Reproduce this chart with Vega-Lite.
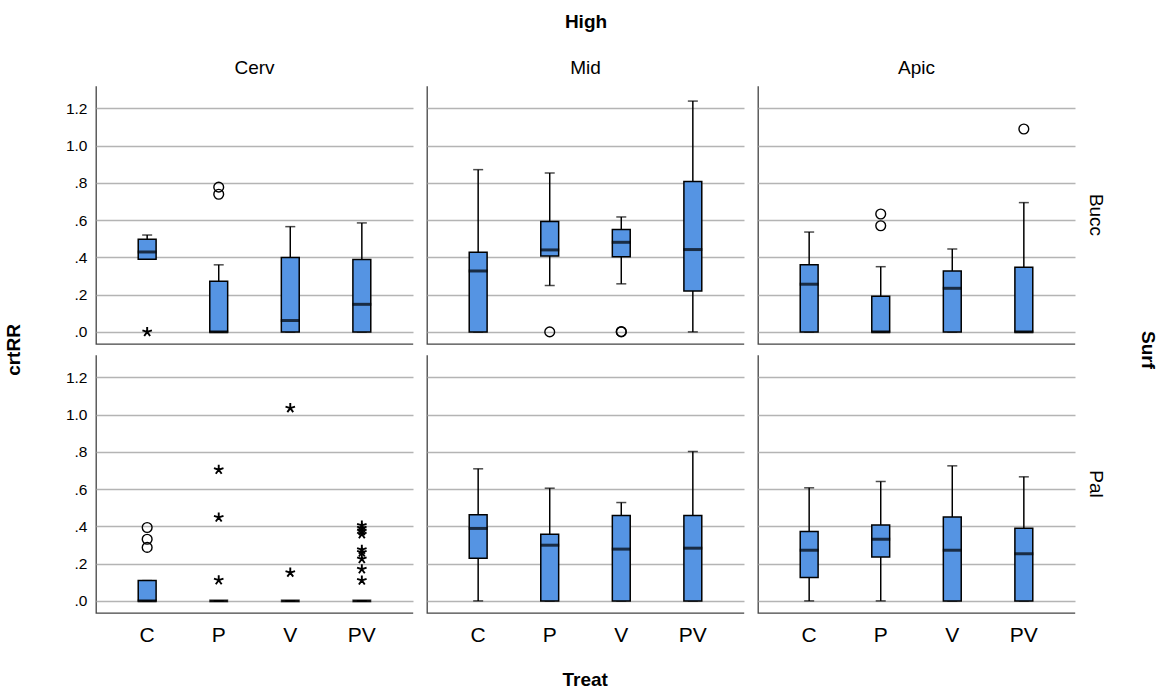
{
  "$schema": "https://vega.github.io/schema/vega-lite/v6.json",
  "padding": {"left": 5, "top": 13, "right": 5, "bottom": 5},
  "background": "white",
  "data": {"values": [
    {"surf":"Bucc","loc":"Cerv","treat":"C","kind":"box","lo":0.39,"q1":0.39,"med":0.429,"q3":0.497,"hi":0.52},
    {"surf":"Bucc","loc":"Cerv","treat":"P","kind":"box","lo":0,"q1":0,"med":0,"q3":0.272,"hi":0.36},
    {"surf":"Bucc","loc":"Cerv","treat":"V","kind":"box","lo":0,"q1":0,"med":0.061,"q3":0.399,"hi":0.565},
    {"surf":"Bucc","loc":"Cerv","treat":"PV","kind":"box","lo":0,"q1":0,"med":0.148,"q3":0.388,"hi":0.585},
    {"surf":"Bucc","loc":"Mid","treat":"C","kind":"box","lo":0,"q1":0,"med":0.327,"q3":0.427,"hi":0.871},
    {"surf":"Bucc","loc":"Mid","treat":"P","kind":"box","lo":0.249,"q1":0.408,"med":0.44,"q3":0.592,"hi":0.853},
    {"surf":"Bucc","loc":"Mid","treat":"V","kind":"box","lo":0.258,"q1":0.404,"med":0.481,"q3":0.549,"hi":0.617},
    {"surf":"Bucc","loc":"Mid","treat":"PV","kind":"box","lo":0,"q1":0.22,"med":0.442,"q3":0.807,"hi":1.239},
    {"surf":"Bucc","loc":"Apic","treat":"C","kind":"box","lo":0,"q1":0,"med":0.256,"q3":0.361,"hi":0.536},
    {"surf":"Bucc","loc":"Apic","treat":"P","kind":"box","lo":0,"q1":0,"med":0,"q3":0.191,"hi":0.35},
    {"surf":"Bucc","loc":"Apic","treat":"V","kind":"box","lo":0,"q1":0,"med":0.234,"q3":0.327,"hi":0.445},
    {"surf":"Bucc","loc":"Apic","treat":"PV","kind":"box","lo":0,"q1":0,"med":0,"q3":0.347,"hi":0.694},
    {"surf":"Pal","loc":"Cerv","treat":"C","kind":"box","lo":0,"q1":0,"med":0,"q3":0.109,"hi":0.109},
    {"surf":"Pal","loc":"Cerv","treat":"P","kind":"box","lo":0,"q1":0,"med":0,"q3":0,"hi":0},
    {"surf":"Pal","loc":"Cerv","treat":"V","kind":"box","lo":0,"q1":0,"med":0,"q3":0,"hi":0},
    {"surf":"Pal","loc":"Cerv","treat":"PV","kind":"box","lo":0,"q1":0,"med":0,"q3":0,"hi":0},
    {"surf":"Pal","loc":"Mid","treat":"C","kind":"box","lo":0,"q1":0.229,"med":0.389,"q3":0.462,"hi":0.709},
    {"surf":"Pal","loc":"Mid","treat":"P","kind":"box","lo":0,"q1":0,"med":0.299,"q3":0.358,"hi":0.605},
    {"surf":"Pal","loc":"Mid","treat":"V","kind":"box","lo":0,"q1":0,"med":0.278,"q3":0.459,"hi":0.528},
    {"surf":"Pal","loc":"Mid","treat":"PV","kind":"box","lo":0,"q1":0,"med":0.283,"q3":0.459,"hi":0.802},
    {"surf":"Pal","loc":"Apic","treat":"C","kind":"box","lo":0,"q1":0.125,"med":0.272,"q3":0.373,"hi":0.607},
    {"surf":"Pal","loc":"Apic","treat":"P","kind":"box","lo":0,"q1":0.235,"med":0.331,"q3":0.408,"hi":0.641},
    {"surf":"Pal","loc":"Apic","treat":"V","kind":"box","lo":0,"q1":0,"med":0.272,"q3":0.451,"hi":0.725},
    {"surf":"Pal","loc":"Apic","treat":"PV","kind":"box","lo":0,"q1":0,"med":0.253,"q3":0.39,"hi":0.666},
    {"surf":"Bucc","loc":"Cerv","treat":"C","kind":"star","value":0},
    {"surf":"Bucc","loc":"Cerv","treat":"P","kind":"circle","value":0.777},
    {"surf":"Bucc","loc":"Cerv","treat":"P","kind":"circle","value":0.739},
    {"surf":"Bucc","loc":"Mid","treat":"P","kind":"circle","value":0},
    {"surf":"Bucc","loc":"Mid","treat":"V","kind":"circle","value":0},
    {"surf":"Bucc","loc":"Mid","treat":"V","kind":"circle","value":0.002},
    {"surf":"Bucc","loc":"Apic","treat":"P","kind":"circle","value":0.633},
    {"surf":"Bucc","loc":"Apic","treat":"P","kind":"circle","value":0.57},
    {"surf":"Bucc","loc":"Apic","treat":"PV","kind":"circle","value":1.089},
    {"surf":"Pal","loc":"Cerv","treat":"C","kind":"circle","value":0.394},
    {"surf":"Pal","loc":"Cerv","treat":"C","kind":"circle","value":0.331},
    {"surf":"Pal","loc":"Cerv","treat":"C","kind":"circle","value":0.287},
    {"surf":"Pal","loc":"Cerv","treat":"P","kind":"star","value":0.704},
    {"surf":"Pal","loc":"Cerv","treat":"P","kind":"star","value":0.448},
    {"surf":"Pal","loc":"Cerv","treat":"P","kind":"star","value":0.111},
    {"surf":"Pal","loc":"Cerv","treat":"V","kind":"star","value":1.035},
    {"surf":"Pal","loc":"Cerv","treat":"V","kind":"star","value":0.152},
    {"surf":"Pal","loc":"Cerv","treat":"PV","kind":"star","value":0.405},
    {"surf":"Pal","loc":"Cerv","treat":"PV","kind":"star","value":0.39},
    {"surf":"Pal","loc":"Cerv","treat":"PV","kind":"star","value":0.375},
    {"surf":"Pal","loc":"Cerv","treat":"PV","kind":"star","value":0.358},
    {"surf":"Pal","loc":"Cerv","treat":"PV","kind":"star","value":0.275},
    {"surf":"Pal","loc":"Cerv","treat":"PV","kind":"star","value":0.26},
    {"surf":"Pal","loc":"Cerv","treat":"PV","kind":"star","value":0.225},
    {"surf":"Pal","loc":"Cerv","treat":"PV","kind":"star","value":0.17},
    {"surf":"Pal","loc":"Cerv","treat":"PV","kind":"star","value":0.11}
  ]},
  "title": {"text": "Treat", "orient": "bottom", "anchor": "middle", "fontSize": 19, "fontWeight": "bold", "color": "black", "offset": 26, "dx": 4},
  "vconcat": [{
    "title": {"text": "crtRR", "orient": "left", "anchor": "middle", "fontSize": 19, "fontWeight": "bold", "color": "black", "offset": 41, "dx": -21},
    "facet": {
      "row": {"field": "surf", "type": "nominal", "sort": ["Bucc", "Pal"],
        "header": {"title": "Surf", "titleOrient": "right", "titleAngle": 90, "titleFontSize": 19, "titleFontWeight": "bold", "titleColor": "black", "titlePadding": 23,
          "labelOrient": "right", "labelAngle": 90, "labelFontSize": 19, "labelColor": "black", "labelPadding": 10}},
      "column": {"field": "loc", "type": "nominal", "sort": ["Cerv", "Mid", "Apic"],
        "header": {"title": "High", "titleOrient": "top", "titleFontSize": 19, "titleFontWeight": "bold", "titleColor": "black", "titlePadding": 17,
          "labelOrient": "top", "labelFontSize": 19, "labelColor": "black", "labelPadding": 7}}
    },
    "spacing": {"row": 9, "column": 12},
    "spec": {
      "width": 317,
      "height": 258,
      "encoding": {
        "x": {"field": "treat", "type": "nominal", "sort": ["C", "P", "V", "PV"],
          "scale": {"paddingInner": 0.75, "paddingOuter": 0.59},
          "axis": {"title": null, "labelAngle": 0, "labelFontSize": 21, "labelColor": "black", "labelPadding": 10, "ticks": false, "domain": false}}
      },
      "layer": [
        {
          "transform": [{"filter": "datum.kind === 'box'"}],
          "mark": {"type": "rule", "color": "black", "strokeWidth": 1.5},
          "encoding": {
            "y": {"field": "lo", "type": "quantitative", "scale": {"domain": [-0.065, 1.32], "nice": false, "zero": false},
              "axis": {"title": null, "values": [0, 0.2, 0.4, 0.6, 0.8, 1.0, 1.2],
                "labelExpr": "datum.value < 1 ? substring(format(datum.value, '.1f'), 1) : format(datum.value, '.1f')",
                "labelFontSize": 15.5, "labelColor": "black", "labelPadding": 8, "ticks": false, "domain": false,
                "grid": true, "gridColor": "#b4b4b4", "gridWidth": 1.5}},
            "y2": {"field": "hi"}
          }
        },
        {
          "transform": [{"filter": "datum.kind === 'box'"}],
          "mark": {"type": "tick", "color": "black", "size": 10, "thickness": 1.5},
          "encoding": {"y": {"field": "hi", "type": "quantitative"}}
        },
        {
          "transform": [{"filter": "datum.kind === 'box'"}],
          "mark": {"type": "tick", "color": "black", "size": 10, "thickness": 1.5},
          "encoding": {"y": {"field": "lo", "type": "quantitative"}}
        },
        {
          "transform": [{"filter": "datum.kind === 'box'"}],
          "mark": {"type": "bar", "fill": "#5594e3", "stroke": "black", "strokeWidth": 1.5},
          "encoding": {"y": {"field": "q1", "type": "quantitative"}, "y2": {"field": "q3"}}
        },
        {
          "transform": [{"filter": "datum.kind === 'box'"}],
          "mark": {"type": "tick", "color": "black", "size": 19, "thickness": 3},
          "encoding": {"y": {"field": "med", "type": "quantitative"}}
        },
        {
          "transform": [{"filter": "datum.kind === 'circle'"}],
          "mark": {"type": "point", "shape": "circle", "filled": false, "stroke": "black", "strokeWidth": 1.4, "size": 95, "opacity": 1},
          "encoding": {"y": {"field": "value", "type": "quantitative"}}
        },
        {
          "transform": [{"filter": "datum.kind === 'star'"}],
          "mark": {"type": "point", "shape": "M0,0L0,-1M0,0L0.951,-0.309M0,0L0.588,0.809M0,0L-0.588,0.809M0,0L-0.951,-0.309", "filled": false, "stroke": "black", "strokeWidth": 1.9, "size": 100, "opacity": 1},
          "encoding": {"y": {"field": "value", "type": "quantitative"}}
        }
      ]
    }
  }],
  "config": {
    "font": "Liberation Sans",
    "view": {"stroke": "#444444", "strokeWidth": 1.3, "strokeDash": [0, 575, 575, 0]}
  }
}
